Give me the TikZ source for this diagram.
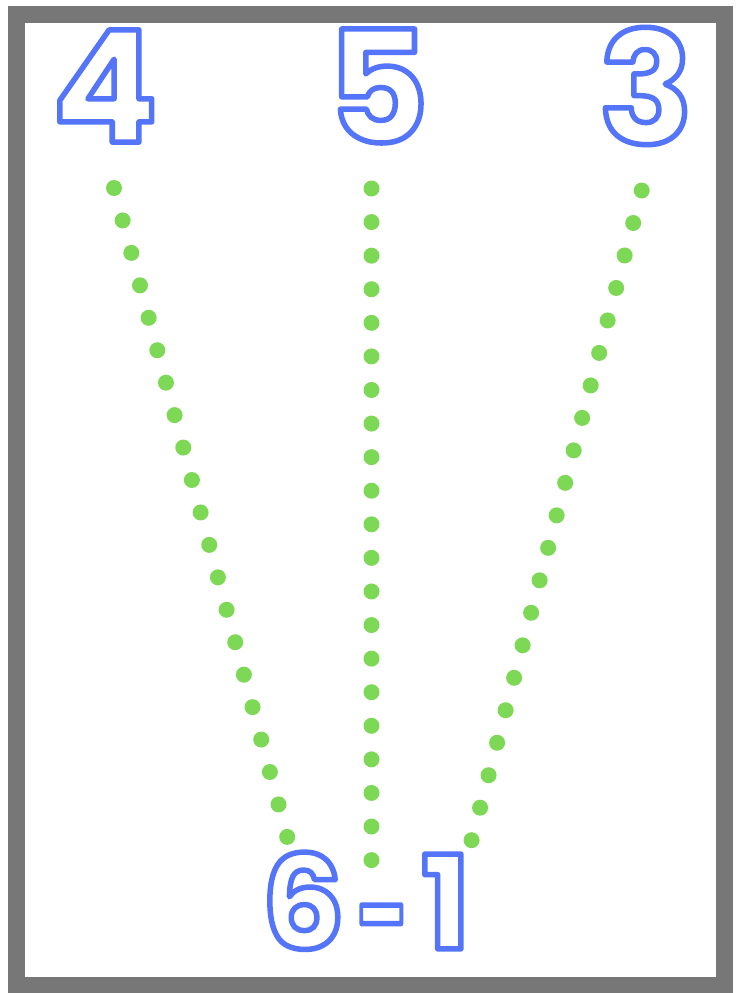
\documentclass[tikz,border=0pt]{standalone}
\usepackage{fontspec}
\usepackage{graphicx}
\newfontfamily\digfont{Poppins}
\definecolor{digblue}{RGB}{84,116,250}
\definecolor{dotgreen}{RGB}{125,216,86}
\definecolor{framegray}{RGB}{119,119,119}
\newcommand{\outl}[1]{\special{pdf:literal direct 1 Tr 5.5 w 1 j 0.329 0.455 0.980 RG}#1\special{pdf:literal direct 0 Tr}}
\tikzset{
  digit/.style={inner sep=0pt, font=\digfont\bfseries\fontsize{156}{156}\selectfont},
  digitsmall/.style={inner sep=0pt, font=\digfont\bfseries\fontsize{130}{130}\selectfont},
  dotline/.style={draw=dotgreen, line width=16pt, line cap=round, dash pattern=on 0pt off 33.58pt},
}
\begin{document}
\begin{tikzpicture}[x=1pt,y=-1pt]
\useasboundingbox (0,0) rectangle (740,993);
\fill[white] (0,0) rectangle (740,993);
\draw[framegray, line width=17pt] (16.5,14) rectangle (724.5,985);
\node[digit] (n4) at (105,86) {\outl{4}};
\node[digit] (n5) at (378,86) {\outl{5}};
\node[digit] (n3) at (646,86) {\outl{3}};
\node[digitsmall] (n61) at (366,906) {\outl{6}\hspace{12pt}\raisebox{-11pt}{\scalebox{0.7}[1]{\outl{-}}}\hspace{12pt}\outl{1}};
\coordinate (l1) at (114,188); \coordinate (l2) at (287.3,837.3);
\coordinate (c1) at (371.5,188.5); \coordinate (c2) at (371.5,860.5);
\coordinate (r1) at (641.7,190.5); \coordinate (r2) at (471.5,840.5);
\draw[dotline] (l1) -- (l2);
\draw[dotline] (c1) -- (c2);
\draw[dotline] (r1) -- (r2);
\end{tikzpicture}
\end{document}
